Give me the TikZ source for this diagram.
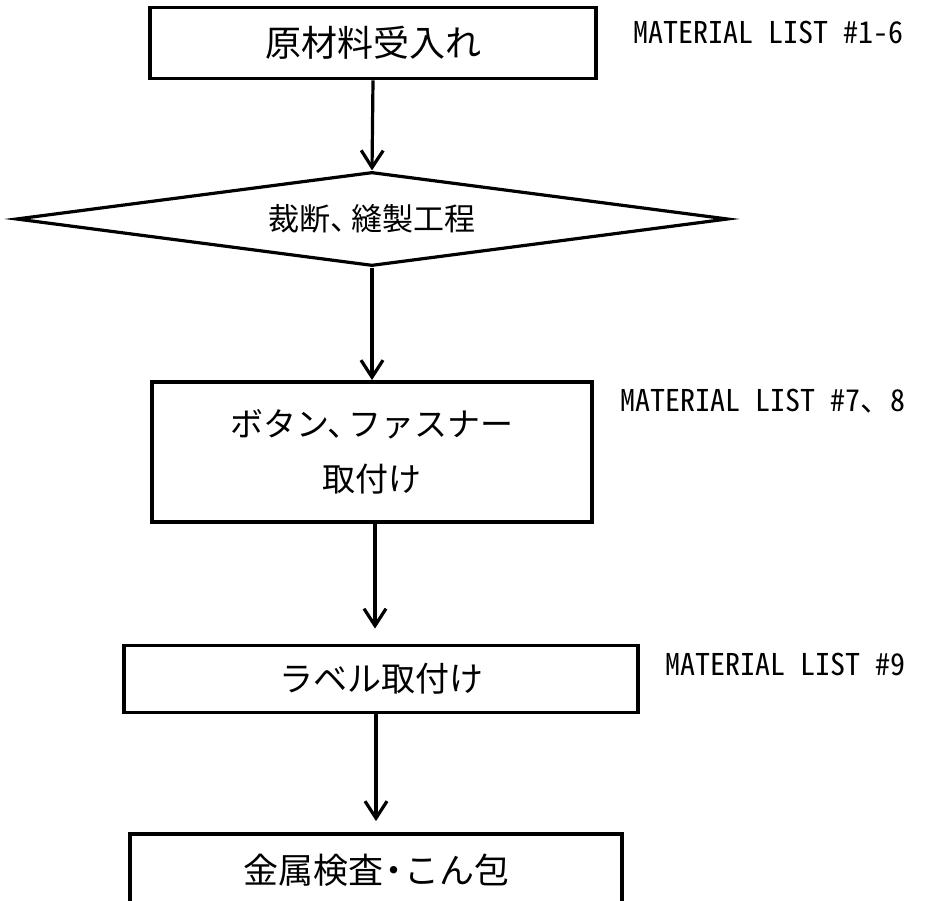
\documentclass[tikz,border=0pt]{standalone}
\usepackage{fontspec}
\setmainfont{Noto Sans CJK JP}
\newfontfamily\listfont[RawFeature=+hwid]{Noto Sans CJK JP}
\usetikzlibrary{shapes.geometric,arrows.meta}

\begin{document}
\begin{tikzpicture}[x=1pt,y=-1pt,
  stepbox/.style={draw,line width=3.8pt,inner sep=0pt,align=center},
  flow/.style={line width=3.2pt,-{Straight Barb[length=17pt,width=22pt]}},
  listlabel/.style={font=\listfont\fontsize{30}{30}\selectfont,inner sep=0pt}]
  \clip (0,0) rectangle (928,901);
  \node[stepbox,minimum width=446pt,minimum height=71pt,font=\fontsize{36}{40}\selectfont] (recv) at (373,43) {原材料受入れ};
  \node[stepbox,diamond,aspect=7.5,line width=3.2pt,minimum width=712pt,minimum height=94pt,font=\fontsize{31}{34}\selectfont] (sew) at (372,219) {裁断、\hspace{-.35em}縫製工程};
  \node[stepbox,minimum width=440pt,minimum height=140pt,font=\fontsize{33}{55}\selectfont] (btn) at (372,452) {ボタン、\hspace{-.35em}ファスナー\\取付け};
  \node[stepbox,minimum width=514pt,minimum height=67pt,font=\fontsize{34}{38}\selectfont] (lbl) at (381,679) {ラベル取付け};
  \node[stepbox,minimum width=492pt,minimum height=72pt,font=\fontsize{35}{38}\selectfont] (pack) at (376,870) {金属検査\hspace{-.2em}・\hspace{-.2em}こん包};
  \node[listlabel,anchor=west] (list1) at (633,32) {MATERIAL LIST \#1-6};
  \node[listlabel,anchor=east] (list2) at (906,401) {MATERIAL LIST \#7、8};
  \node[listlabel,anchor=east] (list3) at (906,664) {MATERIAL LIST \#9};
  \draw[flow] (recv.south) -- (sew.north);
  \draw[flow] (sew.south) -- (btn.north);
  \draw[flow,shorten >=15pt] ([xshift=3pt]btn.south) -- ([xshift=3pt]btn.south |- lbl.north);
  \draw[flow,shorten >=11pt] (pack.north |- lbl.south) -- (pack.north);
\end{tikzpicture}
\end{document}
